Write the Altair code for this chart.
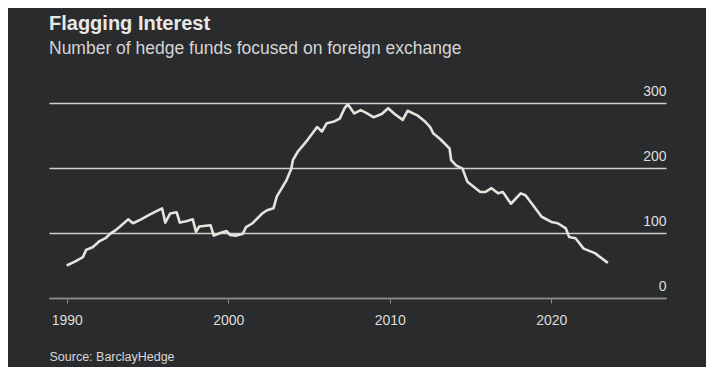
import altair as alt
import pandas as pd

years = [1990.0, 1990.5, 1991.0, 1991.2, 1991.6, 1992.0, 1992.4, 1992.7, 1993.0, 1993.3,
         1993.8, 1994.1, 1994.6, 1995.1, 1995.5, 1995.9,
         1996.1, 1996.4, 1996.8, 1997.0, 1997.4, 1997.8, 1998.0, 1998.2, 1998.9, 1999.1,
         1999.5, 1999.9, 2000.1, 2000.5, 2000.9, 2001.1, 2001.5, 2002.1, 2002.4, 2002.8,
         2003.0, 2003.6, 2003.9, 2004.0, 2004.3, 2004.9, 2005.5, 2005.8, 2006.1, 2006.5,
         2006.9, 2007.2, 2007.4, 2007.8, 2008.2, 2008.6, 2009.0, 2009.5, 2009.9, 2010.3,
         2010.8, 2011.1, 2011.7, 2012.2, 2012.5, 2012.7, 2013.1, 2013.7, 2013.8, 2014.1,
         2014.5, 2014.8, 2015.6, 2015.9, 2016.3, 2016.7, 2017.0, 2017.5, 2018.1, 2018.4,
         2018.8, 2019.4, 2020.0, 2020.4, 2020.9, 2021.1, 2021.5, 2022.0, 2022.7, 2023.5]
funds = [50, 56, 63, 74, 78, 87, 92, 99, 104, 110,
         121, 115, 121, 128, 133, 138,
         116, 130, 132, 116, 118, 121, 102, 110, 112, 96,
         100, 103, 97, 96, 99, 109, 115, 130, 135, 138,
         156, 181, 199, 212, 225, 243, 263, 256, 269, 271,
         276, 292, 298, 284, 289, 284, 278, 283, 292, 283,
         274, 288, 281, 271, 263, 253, 245, 230, 212, 204,
         199, 179, 163, 163, 169, 161, 163, 145, 161, 158,
         145, 125, 117, 115, 107, 94, 92, 76, 69, 54]
x_ticks = [1990, 2000, 2010, 2020]
y_ticks = [0, 100, 200, 300]

df = pd.DataFrame({"year": years, "funds": funds})

BG = "#2a2b2d"
FONT = "Liberation Sans"

chart = alt.Chart(df).mark_line(color="#e6e3db", strokeWidth=2.6, strokeJoin="round").encode(
    x=alt.X("year:Q",
            scale=alt.Scale(domain=[1988.9, 2027.1], nice=False, zero=False),
            axis=alt.Axis(values=x_ticks, format="d", grid=False,
                          domainColor="#8c8c8c", domainWidth=1.2,
                          tickColor="#8c8c8c", tickSize=5, tickWidth=1,
                          labelColor="#dcdcdc", labelFont=FONT,
                          labelFontSize=14, labelPadding=10,
                          title="Source: BarclayHedge", titleX=0, titleY=62,
                          titleAlign="left", titleAnchor="start", titleBaseline="alphabetic",
                          titleColor="#d8d8d8", titleFont=FONT,
                          titleFontSize=12.5, titleFontWeight="normal")),
    y=alt.Y("funds:Q",
            scale=alt.Scale(domain=[0, 300], nice=False),
            axis=alt.Axis(orient="right", values=y_ticks, domain=False, ticks=False,
                          grid=True, gridColor="#cfcfcf", gridWidth=1.3,
                          labelAlign="right", labelBaseline="alphabetic",
                          labelOffset=-8, labelPadding=0,
                          labelColor="#dedede", labelFont=FONT, labelFontSize=14,
                          title=None)),
).properties(
    width=617,
    height=195,
    padding={"left": 41, "top": 95, "right": 40, "bottom": 69},
    autosize=alt.AutoSizeParams(type="none"),
    background=BG,
    title=alt.TitleParams(
        text="Flagging Interest",
        subtitle="Number of hedge funds focused on foreign exchange",
        anchor="start", frame="group", offset=27,
        font=FONT, fontSize=20, fontWeight="bold", color="#e8e8e8",
        subtitleFont=FONT, subtitleFontSize=17.5, subtitleColor="#d5d5d5",
        subtitlePadding=6,
    ),
).configure_view(stroke=None)

chart.save("out.html", embed_options={"renderer": "svg", "actions": False})
